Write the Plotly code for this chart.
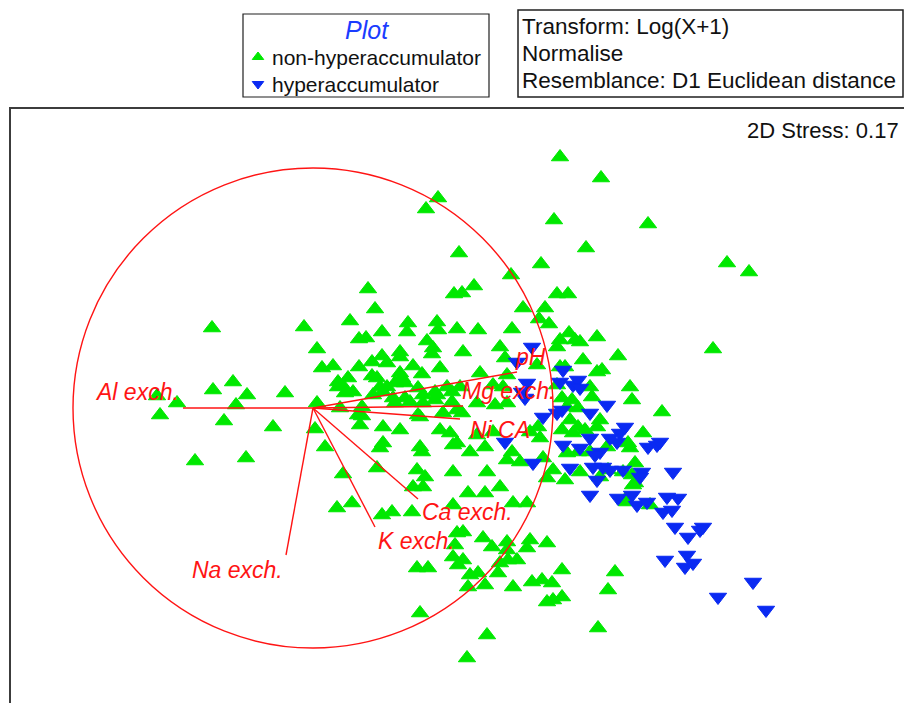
import plotly.graph_objects as go

# nMDS ordination of soil samples (arbitrary MDS units, vector origin at 0,0)
non_hyper_x = [
    247, 288, 125, 113, 241, 335, 273, 146, 414, 436, 228, 198, 161, 141, 149, 244, 255, 55, 62, 210,
    232, 226, 236, 95, 124, 144, 165, 199, 256, 284, 69, 37, -101, -9, 46, 53, 94, 125, 400, 4,
    87, 87, 114, 120, 119, 150, 69, 9, 20, 46, 59, 100, 109, 25, 35, 59, 64, 87, 89, 25,
    30, 40, 32, 67, 74, 82, 92, -28, 122, 139, 147, 4, 27, 49, 60, 82, 97, 110, 122, 139,
    149, 164, 45, 49, 105, 130, 267, 262, 244, 187, 305, 270, 192, 247, 252, 74, 127, 167, 194, 224,
    134, 180, 190, 244, 105, 110, 124, 70, 80, 92, 182, 194, 249, 144, 107, 70, 87, 127, 137, 164,
    180, 217, 225, 227, 260, 70, 107, 109, 140, 144, 157, 172, 199, 207, 194, 240, 252, 234, 230, 174,
    104, 112, 140, 110, 100, 155, 172, 187, 200, 214, 79, 99, -100, -80, -66, -153, -136, -156, -77, -89,
    -40, 47, 2, 12, -118, -67, 30, 67, 64, 24, 39, 69, 140, 144, 150, 170, 179, 194, 217, 214,
    234, 142, 140, 150, 145, 104, 115, 157, 165, 155, 172, 185, 187, 195, 204, 194, 200, 219, 229, 239,
    249, 234, 240, 249, 107, 174, 154, 285, 295, 302, 312, 320, 337, 247, 284, 289, 277, 279, 317, 319,
    259, 254, 265, 349, 257, 265, 287, 284, 272, 249, 330, 315, 317, 294, 254, 265, 277, 322, 319, 267,
    287, 295, 310, 322, 314,
]
non_hyper_y = [
    251, 230, 210, 199, 188, 184, 160, 155, 145, 136, 144, 133, 122, 114, 115, 114, 114, 119, 99, 100,
    100, 89, 84, 85, 86, 79, 78, 79, 75, 71, 76, 87, 80, 81, 69, 70, 76, 78, 59, 59,
    56, 51, 67, 60, 54, 56, 52, 40, 42, 41, 46, 42, 34, 26, 30, 32, 30, 35, 30, 21,
    22, 16, 15, 21, 21, 25, 25, 15, 16, 16, 21, 5, 0, 1, 13, 5, 6, 5, 8, 6,
    -5, 5, -7, -8, -7, -5, 66, 68, 61, 61, 52, 48, 50, 41, 41, 45, 40, 35, 33, 43,
    21, 23, 21, 23, 20, 13, 13, 16, 10, 10, 3, 5, 10, -2, -9, -19, -22, -22, -25, -27,
    -24, -24, -19, -30, -25, -35, -39, -44, -37, -35, -44, -39, -44, -54, -52, -62, -72, -70, -50, -64,
    -62, -69, -64, -79, -79, -85, -85, -79, -95, -95, -104, -104, 18, 26, 13, -7, 5, 12, 3, -13,
    -19, -17, -21, -39, -53, -50, -66, -40, -60, -100, -95, -107, -97, -125, -124, -130, -139, -134, -132, -140,
    -135, -137, -149, -152, -157, -160, -160, -167, -165, -179, -177, -165, -155, -152, -152, -142, -179, -174, -172, -175,
    -162, -194, -192, -189, -205, -227, -250, -220, -182, -164, -92, -77, -97, 68, 36, 38, 21, 11, 21, 8,
    8, 1, 0, -4, -12, -19, -12, -19, -22, -22, -25, -35, -40, -39, -45, -44, -44, -55, -67, -64,
    -69, -62, -64, -75, -94,
]

hyper_x = [
    219, 204, 214, 209, 212, 230, 244, 192, 220, 250, 257, 250, 260, 265, 267, 247, 249, 294, 277, 312,
    307, 304, 297, 277, 267, 287, 282, 335, 344, 347, 280, 284, 290, 297, 310, 329, 327, 360, 277, 305,
    319, 324, 334, 350, 359, 365, 354, 362, 390, 387, 375, 352, 374, 372, 380, 440, 405, 453,
]
hyper_y = [
    61, 46, 25, 16, 10, -9, -5, -34, -55, -37, -60, 38, 23, 28, 20, 26, -2, 3, -5, -19,
    -25, -34, -30, -30, -40, -44, -47, -39, -37, -34, -59, -72, -59, -62, -62, -64, -69, -64, -87, -90,
    -87, -97, -94, -104, -102, -90, -89, -119, -119, -122, -129, -152, -147, -159, -155, -174, -189, -202,
]

# Environmental vectors (correlation overlay) and their label anchors
vector_names = ["Al exch.", "Na exch.", "K exch.", "Ca exch.", "Ni CA", "Mg exch.", "pH"]
vector_x = [-130, -27, 62, 105, 147, 150, 204]
vector_y = [0, -147, -119, -91, -11, 2, 36]
label_x = [-176, -76, 103, 154, 187, 195, 217]
label_y = [16, -162, -133, -104, -22, 17, 51]
circle_radius = 240

group_names = ["non-hyperaccumulator", "hyperaccumulator"]
info_lines = ["Transform: Log(X+1)", "Normalise", "Resemblance: D1 Euclidean distance"]
stress_text = "2D Stress: 0.17"

GREEN = "#00E800"
BLUE = "#0A2AF2"
RED = "#FF1414"
FONT = "Liberation Sans, Arial, sans-serif"

W, H = 904, 703
X0, Y0 = 313, 408  # pixel position of the ordination origin


def paper_x(px):
    return px / W


def paper_y(py):
    return 1 - py / H


fig = go.Figure()

fig.add_trace(go.Scatter(
    x=non_hyper_x, y=non_hyper_y, mode="markers", name=group_names[0],
    marker=dict(symbol="triangle-up", size=15, color=GREEN, line=dict(color=GREEN, width=1)),
))
fig.add_trace(go.Scatter(
    x=hyper_x, y=hyper_y, mode="markers", name=group_names[1],
    marker=dict(symbol="triangle-down", size=15, color=BLUE, line=dict(color=BLUE, width=1)),
))

# legend symbols
fig.add_trace(go.Scatter(
    x=[258 - X0], y=[Y0 - 57], mode="markers", cliponaxis=False,
    marker=dict(symbol="triangle-up", size=10, color=GREEN, line=dict(color=GREEN, width=1)),
))
fig.add_trace(go.Scatter(
    x=[258 - X0], y=[Y0 - 84], mode="markers", cliponaxis=False,
    marker=dict(symbol="triangle-down", size=10, color=BLUE, line=dict(color=BLUE, width=1)),
))

shapes = []
# plot frame
shapes.append(dict(type="rect", xref="x", yref="y", x0=10 - X0, x1=W + 20 - X0,
                   y0=Y0 - (H + 20), y1=Y0 - 108, line=dict(color="#3c3c3c", width=2)))
# correlation circle
shapes.append(dict(type="circle", xref="x", yref="y", x0=-circle_radius, x1=circle_radius,
                   y0=-circle_radius, y1=circle_radius, line=dict(color=RED, width=1.4)))
for vx, vy in zip(vector_x, vector_y):
    shapes.append(dict(type="line", xref="x", yref="y", x0=0, y0=0, x1=vx, y1=vy,
                       line=dict(color=RED, width=1.4)))
# legend and info boxes
shapes.append(dict(type="rect", xref="paper", yref="paper", x0=paper_x(243), x1=paper_x(489),
                   y0=paper_y(97), y1=paper_y(14), line=dict(color="#202020", width=1.2)))
shapes.append(dict(type="rect", xref="paper", yref="paper", x0=paper_x(518), x1=paper_x(903),
                   y0=paper_y(97), y1=paper_y(10), line=dict(color="#202020", width=1.5)))

annotations = []
for name, lx, ly in zip(vector_names, label_x, label_y):
    annotations.append(dict(x=lx, y=ly, xref="x", yref="y", text=f"<i>{name}</i>", showarrow=False,
                            xanchor="center", yanchor="middle",
                            font=dict(family=FONT, size=23, color=RED)))
annotations.append(dict(x=paper_x(367), y=paper_y(30), xref="paper", yref="paper", text="<i>Plot</i>",
                        showarrow=False, xanchor="center", yanchor="middle",
                        font=dict(family=FONT, size=25, color="#1a3cff")))
for name, ty in zip(group_names, [57, 84]):
    annotations.append(dict(x=paper_x(270), y=paper_y(ty), xref="paper", yref="paper", text=name,
                            showarrow=False, xanchor="left", yanchor="middle",
                            font=dict(family=FONT, size=21, color="#111111")))
for line, ty in zip(info_lines, [26, 53, 80]):
    annotations.append(dict(x=paper_x(520), y=paper_y(ty), xref="paper", yref="paper", text=line,
                            showarrow=False, xanchor="left", yanchor="middle",
                            font=dict(family=FONT, size=22.5, color="#111111")))
annotations.append(dict(x=paper_x(901), y=paper_y(130), xref="paper", yref="paper", text=stress_text,
                        showarrow=False, xanchor="right", yanchor="middle",
                        font=dict(family=FONT, size=22, color="#111111")))

fig.update_layout(
    width=W, height=H,
    margin=dict(l=0, r=0, t=0, b=0),
    paper_bgcolor="white", plot_bgcolor="white",
    showlegend=False,
    xaxis=dict(range=[-X0, W - X0], visible=False, fixedrange=True),
    yaxis=dict(range=[Y0 - H, Y0], visible=False, fixedrange=True),
    shapes=shapes,
    annotations=annotations,
)

fig.write_html("out.html")
